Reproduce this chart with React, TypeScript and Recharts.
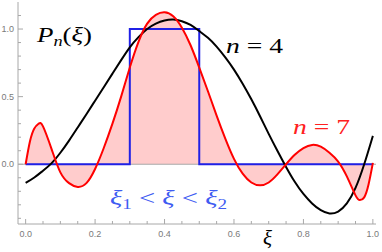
import React from 'react';
import { ComposedChart, Area, Line, XAxis, YAxis, ReferenceLine } from 'recharts';

const W = 382;
const H = 252;

// n = 4 curve
const n4X = [
    0, 0.025, 0.05, 0.075, 0.1, 0.125, 0.15, 0.175, 0.2, 0.225, 0.25, 0.275, 0.3, 0.325, 0.35, 0.375, 0.4,
    0.425, 0.45, 0.475, 0.5, 0.525, 0.55, 0.575, 0.6, 0.625, 0.65, 0.675, 0.7, 0.725, 0.75, 0.775, 0.8,
    0.825, 0.85, 0.875, 0.9, 0.925, 0.95, 0.975, 1,
];
const n4Y = [
    -0.138, -0.098, -0.048, 0.008, 0.085, 0.175, 0.272, 0.37, 0.47, 0.57, 0.67, 0.77, 0.865, 0.94, 1.0, 1.04,
    1.063, 1.07, 1.058, 1.03, 0.985, 0.935, 0.87, 0.79, 0.7, 0.595, 0.48, 0.355, 0.225, 0.1, -0.02, -0.13,
    -0.22, -0.29, -0.34, -0.364, -0.35, -0.29, -0.175, 0.0, 0.21,
];

// n = 7 curve
const n7X = [
    0, 0.0125, 0.025, 0.0375, 0.05, 0.075, 0.1, 0.125, 0.15, 0.175, 0.2, 0.225, 0.25, 0.275, 0.3, 0.325,
    0.35, 0.375, 0.4, 0.425, 0.45, 0.475, 0.5, 0.525, 0.55, 0.575, 0.6, 0.625, 0.65, 0.675, 0.7, 0.725,
    0.75, 0.775, 0.8, 0.825, 0.85, 0.875, 0.9, 0.925, 0.95, 0.9625, 0.975, 0.9875, 1,
];
const n7Y = [
    0, 0.17, 0.265, 0.3, 0.28, 0.11, -0.06, -0.14, -0.168, -0.14, -0.035, 0.12, 0.3, 0.5, 0.715, 0.905,
    1.04, 1.105, 1.124, 1.095, 1.01, 0.88, 0.715, 0.54, 0.36, 0.19, 0.04, -0.07, -0.135, -0.156, -0.135, -0.075,
    0.0, 0.07, 0.12, 0.143, 0.13, 0.085, 0.02, -0.09, -0.23, -0.265, -0.245, -0.15, 0.01,
];

// the box xi1 < xi < xi2
const boxX = [0, 0.3, 0.3, 0.5, 0.5, 1];
const boxY = [0, 0, 1, 1, 0, 0];

const xTicks = [
    0, 0.05, 0.1, 0.15, 0.2, 0.25, 0.3, 0.35, 0.4, 0.45, 0.5, 0.55, 0.6, 0.65, 0.7, 0.75, 0.8, 0.85, 0.9, 0.95, 1,
];
const xLabels = [0, 0.2, 0.4, 0.6, 0.8, 1];
const yTicks = [-0.4, -0.3, -0.2, -0.1, 0, 0.1, 0.2, 0.3, 0.4, 0.5, 0.6, 0.7, 0.8, 0.9, 1, 1.1];
const yLabels = [0, 0.5, 1];

const n4Data = n4X.map((x, i) => ({ x, y: n4Y[i] }));
const n7Data = n7X.map((x, i) => ({ x, y: n7Y[i] }));
const boxData = boxX.map((x, i) => ({ x, y: boxY[i] }));

const frame = '#a8a8a8';
const tickText = '#7a7a7a';
const sans = '"Liberation Sans", Arial, sans-serif';
const serif = '"Liberation Serif", "Times New Roman", serif';

const isIn = (list: number[], v: number) => list.some((t) => Math.abs(t - v) < 1e-9);

const BottomTick = (props: any) => {
    const { x, y, payload } = props;
    const major = isIn(xLabels, payload.value);
    return (
        <g>
            <line x1={x} x2={x} y1={y} y2={y - (major ? 5 : 3)} stroke={frame} />
            {major && (
                <text x={x} y={y + 13} textAnchor="middle" fontSize={9} fill={tickText} fontFamily={sans}>
                    {payload.value.toFixed(1)}
                </text>
            )}
        </g>
    );
};

const TopTick = (props: any) => {
    const { x, y, payload } = props;
    const major = isIn(xLabels, payload.value);
    return <line x1={x} x2={x} y1={y} y2={y + (major ? 5 : 3)} stroke={frame} />;
};

const LeftTick = (props: any) => {
    const { x, y, payload } = props;
    const major = isIn(yLabels, payload.value);
    return (
        <g>
            <line x1={x} x2={x + (major ? 5 : 3)} y1={y} y2={y} stroke={frame} />
            {major && (
                <text x={x - 4} y={y + 3} textAnchor="end" fontSize={9} fill={tickText} fontFamily={sans}>
                    {payload.value.toFixed(1)}
                </text>
            )}
        </g>
    );
};

const RightTick = (props: any) => {
    const { x, y, payload } = props;
    const major = isIn(yLabels, payload.value);
    return <line x1={x} x2={x - (major ? 5 : 3)} y1={y} y2={y} stroke={frame} />;
};

const xDomain = [-0.022, 1.009];
const yDomain = [-0.442, 1.2];

export default function App() {
    return (
        <div style={{ position: 'absolute', left: 0, top: 0, width: W, height: H, background: '#fff' }}>
            <ComposedChart width={W} height={H} margin={{ top: 2, right: 6, bottom: 0, left: 0 }}>
                <XAxis
                    type="number"
                    dataKey="x"
                    domain={xDomain}
                    allowDataOverflow
                    ticks={xTicks}
                    interval={0}
                    tickSize={0}
                    tickMargin={0}
                    tick={<BottomTick />}
                    height={28}
                    axisLine={{ stroke: frame }}
                />
                <XAxis
                    xAxisId="top"
                    orientation="top"
                    type="number"
                    dataKey="x"
                    domain={xDomain}
                    allowDataOverflow
                    ticks={xTicks}
                    interval={0}
                    tickSize={0}
                    tickMargin={0}
                    tick={<TopTick />}
                    height={0}
                    axisLine={{ stroke: frame }}
                />
                <YAxis
                    type="number"
                    domain={yDomain}
                    allowDataOverflow
                    ticks={yTicks}
                    interval={0}
                    tickSize={0}
                    tickMargin={0}
                    tick={<LeftTick />}
                    width={18}
                    axisLine={{ stroke: frame }}
                />
                <YAxis
                    yAxisId="right"
                    orientation="right"
                    type="number"
                    domain={yDomain}
                    allowDataOverflow
                    ticks={yTicks}
                    interval={0}
                    tickSize={0}
                    tickMargin={0}
                    tick={<RightTick />}
                    width={0}
                    axisLine={{ stroke: frame }}
                />
                <ReferenceLine y={0} stroke={frame} />
                <Area
                    data={n7Data}
                    dataKey="y"
                    type="natural"
                    baseValue={0}
                    stroke="none"
                    fill="#ffcccc"
                    fillOpacity={1}
                    isAnimationActive={false}
                />
                <Line
                    data={boxData}
                    dataKey="y"
                    type="linear"
                    stroke="#2020e6"
                    strokeWidth={2}
                    dot={false}
                    isAnimationActive={false}
                />
                <Line
                    data={n4Data}
                    dataKey="y"
                    type="natural"
                    stroke="#000"
                    strokeWidth={2}
                    dot={false}
                    isAnimationActive={false}
                />
                <Line
                    data={n7Data}
                    dataKey="y"
                    type="natural"
                    stroke="#ff0000"
                    strokeWidth={2}
                    dot={false}
                    isAnimationActive={false}
                />
            </ComposedChart>
            <svg
                width={W}
                height={H}
                style={{ position: 'absolute', left: 0, top: 0, pointerEvents: 'none' }}
                fontFamily={serif}
            >
                <text x={37} y={42} fontSize={22} fill="#000" textLength={55} lengthAdjust="spacingAndGlyphs">
                    <tspan fontStyle="italic">P</tspan>
                    <tspan fontStyle="italic" fontSize={15} dy={4}>n</tspan>
                    <tspan dy={-4}>(</tspan>
                    <tspan fontStyle="italic">ξ</tspan>
                    <tspan>)</tspan>
                </text>
                <text x={226} y={53} fontSize={21} fill="#000" textLength={57} lengthAdjust="spacingAndGlyphs">
                    <tspan fontStyle="italic">n</tspan>
                    <tspan> = 4</tspan>
                </text>
                <text x={293} y={134} fontSize={21} fill="#ff2020" textLength={57} lengthAdjust="spacingAndGlyphs">
                    <tspan fontStyle="italic">n</tspan>
                    <tspan> = 7</tspan>
                </text>
                <text x={110} y={205} fontSize={21} fill="#3f5cf2" textLength={117} lengthAdjust="spacingAndGlyphs">
                    <tspan fontStyle="italic">ξ</tspan>
                    <tspan fontSize={14} dy={4}>1</tspan>
                    <tspan dy={-4}> &lt; </tspan>
                    <tspan fontStyle="italic">ξ</tspan>
                    <tspan> &lt; </tspan>
                    <tspan fontStyle="italic">ξ</tspan>
                    <tspan fontSize={14} dy={4}>2</tspan>
                </text>
                <text x={263} y={245} fontSize={21} fill="#000" fontStyle="italic">
                    ξ
                </text>
            </svg>
        </div>
    );
}
